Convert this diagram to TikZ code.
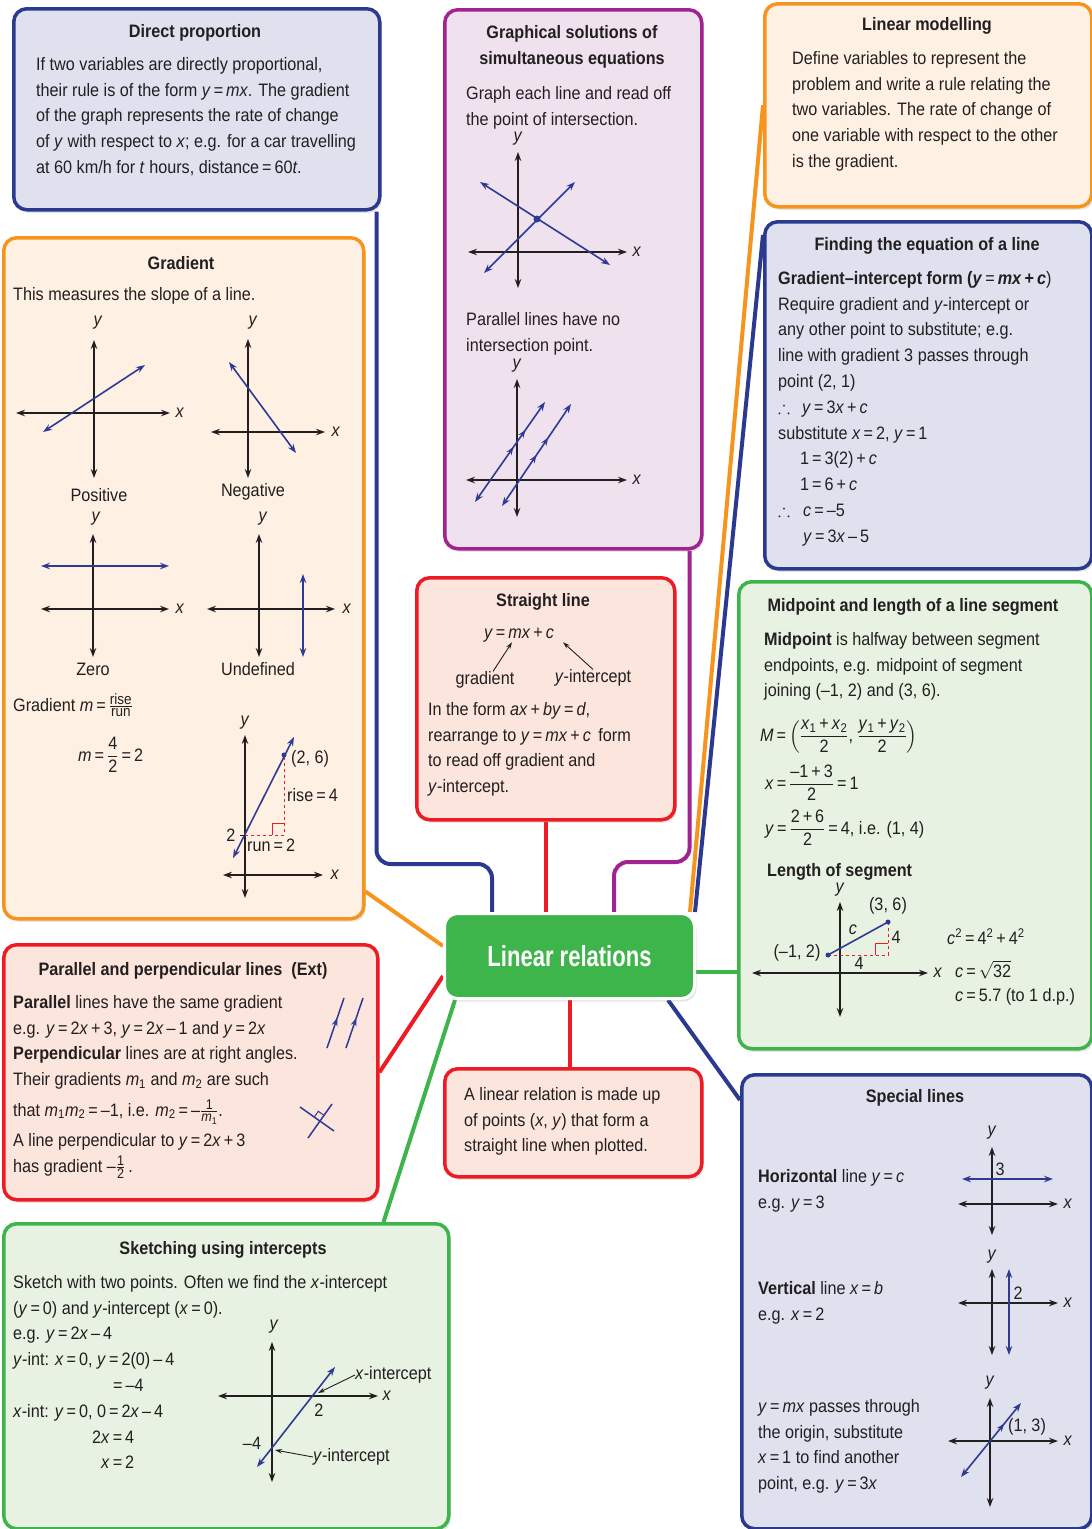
\documentclass[tikz,border=0pt]{standalone}
\usepackage{amsmath,amssymb}
\usepackage{fontspec}
\setmainfont{Liberation Sans}[FakeStretch=0.9]
\newfontfamily\lrfont{Liberation Sans}[FakeStretch=0.76]
\usetikzlibrary{arrows.meta,shadows,backgrounds,decorations.markings}
\definecolor{cblue}{HTML}{2B3A8E}
\definecolor{cpurple}{HTML}{A0238F}
\definecolor{corange}{HTML}{F7941D}
\definecolor{cred}{HTML}{ED1C24}
\definecolor{cgreen}{HTML}{3DB54A}
\definecolor{fblue}{HTML}{DFE1EF}
\definecolor{fpurple}{HTML}{EFE1EE}
\definecolor{forange}{HTML}{FEF1E3}
\definecolor{fred}{HTML}{FCE5DC}
\definecolor{fgreen}{HTML}{E7F2E3}
\definecolor{lblue}{HTML}{2E3A94}
\definecolor{ctext}{HTML}{231F20}
\newcommand\bodyfont{\fontsize{18}{25.8}\selectfont}
\newcommand\I[1]{\textit{#1}}
\newcommand\myeq{\,=\,}
\newcommand\mypl{\,+\,}
\newcommand\mymi{\,–\,}
\newcommand\smfr[3]{$\tfrac{\text{\fontsize{#1}{#1}\selectfont #2}}{\text{\fontsize{#1}{#1}\selectfont #3}}$}
\newcommand\cbox[7]{\node[cardbox, draw=#6, fill=#7, minimum width={(#4-#2)*1pt}, minimum height={(#5-#3)*1pt}] (#1) at (#2,#3) {};}
\begin{document}
\begin{tikzpicture}[x=1pt,y=-1pt,
  cardbox/.style={line width=3.5pt, rounded corners=13pt, inner sep=0pt, anchor=north west, drop shadow={opacity=0.2, shadow xshift=2pt, shadow yshift=-3pt}},
  conn/.style={line width=4pt, rounded corners=14pt},
  tx/.style={inner sep=0pt, anchor=north west, align=left, font=\bodyfont, text=ctext},
  hd/.style={inner sep=0pt, align=center, font=\bodyfont\bfseries, text=ctext},
  lab/.style={inner sep=0pt, font=\bodyfont, text=ctext},
  ax/.style={draw=ctext, line width=1.2pt, <->},
  bl/.style={draw=lblue, line width=1.6pt, <->},
  >={Stealth[length=9pt,width=6.5pt]},
  midarr/.style={postaction={decorate, decoration={markings, mark=at position #1 with {\arrow{Stealth[length=8pt,width=6pt]}}}}},
  pointer/.style={draw=ctext, line width=0.9pt, -{Stealth[length=7pt,width=4.5pt]}},
]
\useasboundingbox (0,0) rectangle (1092,1529);

% ---------- boxes ----------
\cbox{dp}{12}{7}{378}{208}{cblue}{fblue}
\cbox{gs}{443}{8}{700}{547}{cpurple}{fpurple}
\cbox{lm}{763}{2}{1090}{205}{corange}{forange}
\cbox{fe}{763}{220}{1090}{567}{cblue}{fblue}
\cbox{gr}{2}{236}{362}{917}{corange}{forange}
\cbox{sl}{415}{576}{673}{818}{cred}{fred}
\cbox{mp}{737}{580}{1090}{1047}{cgreen}{fgreen}
\cbox{pp}{2}{943}{376}{1198}{cred}{fred}
\cbox{lb}{443}{1067}{700}{1175}{cred}{fred}
\cbox{sk}{2}{1222}{447}{1527}{cgreen}{fgreen}
\cbox{sp}{740}{1073}{1090}{1527}{cblue}{fblue}
\node[cardbox, draw=white, line width=3pt, fill=cgreen, minimum width=250pt, minimum height=85pt,
      font=\lrfont\bfseries\fontsize{29}{30}\selectfont, text=white] (lr) at (443,912) {Linear relations};

% ---------- connectors ----------
\coordinate (cA) at (492,864);
\coordinate (cB) at (614,862);
\begin{pgfonlayer}{background}
\fill[white] (0,0) rectangle (1092,1529);
\draw[conn, cblue] ([xshift=-5pt]dp.south east) |- (cA) -- (cA |- lr.north);
\draw[conn, cpurple] ([xshift=-14pt]gs.south east) |- (cB) -- (cB |- lr.north);
\draw[conn, cred] (sl.south) -- (sl.south |- lr.north);
\draw[conn, corange] (lm.west) -- ([xshift=-6pt]lr.north east);
\draw[conn, cblue] ([yshift=-15pt]fe.north west) -- ([xshift=-1pt]lr.north east);
\draw[conn, cgreen] ([yshift=-16pt]lr.east) -- ([yshift=-16pt]lr.east -| mp.west);
\draw[conn, corange] ([yshift=29pt]gr.south east) -- ([yshift=10pt]lr.west);
\draw[conn, cred] (pp.east) -- ([yshift=-20pt]lr.west);
\draw[conn, cgreen] ([xshift=-67pt]sk.north east) -- ([xshift=12pt]lr.south west);
\draw[conn, cred] (lr.south) -- (lr.south |- lb.north);
\draw[conn, cblue] ([xshift=-28pt]lr.south east) -- ([yshift=-27pt]sp.north west);
\end{pgfonlayer}

% ---------- Direct proportion ----------
\node[hd] (dpT) at (195,33) {Direct proportion};
\node[tx] (dpB) at (36,57) {If two variables are directly proportional,\\their rule is of the form \I{y}\myeq\I{mx}. The gradient\\of the graph represents the rate of change\\of \I{y} with respect to \I{x}; e.g. for a car travelling\\at 60 km/h for \I{t} hours, distance\myeq60\I{t}.};

% ---------- Graphical solutions ----------
\node[hd] (gsT) at (572,47) {Graphical solutions of\\simultaneous equations};
\node[tx] (gsB1) at (466,86) {Graph each line and read off\\the point of intersection.};
\node[tx] (gsB2) at (466,312) {Parallel lines have no\\intersection point.};
\draw[ax] (518,152) -- (518,288);
\draw[ax] (468,252) -- (627,252);
\node[lab] (gs1y) at (518,139) {\I{y}};
\node[lab] (gs1x) at (637,252) {\I{x}};
\draw[bl] (480,182) -- (610,265);
\draw[bl] (484,273) -- (575,182);
\fill[lblue] (537,219) circle (3.5pt);
\draw[ax] (517,379) -- (517,517);
\draw[ax] (466,480) -- (627,480);
\node[lab] (gs2y) at (517,366) {\I{y}};
\node[lab] (gs2x) at (637,480) {\I{x}};
\draw[bl, midarr=0.55, midarr=0.72] (475,502) -- (545,402);
\draw[bl, midarr=0.5, midarr=0.67] (502,506) -- (571,404);

% ---------- Linear modelling ----------
\node[hd] (lmT) at (927,26) {Linear modelling};
\node[tx] (lmB) at (792,51) {Define variables to represent the\\problem and write a rule relating the\\two variables. The rate of change of\\one variable with respect to the other\\is the gradient.};

% ---------- Finding the equation ----------
\node[hd] (feT) at (927,246) {Finding the equation of a line};
\node[tx] (feB) at (778,271) {\textbf{Gradient–intercept form (\I{y}}\myeq\textbf{\I{mx}\mypl\I{c}})\\Require gradient and \I{y}-intercept or\\any other point to substitute; e.g.\\line with gradient 3 passes through\\point (2, 1)\\\makebox[24pt][l]{$\therefore$}\I{y}\myeq3\I{x}\mypl\I{c}\\substitute \I{x}\myeq2, \I{y}\myeq1\\\hspace*{22pt}1\myeq3(2)\mypl\I{c}\\\hspace*{22pt}1\myeq6\mypl\I{c}\\\makebox[25pt][l]{$\therefore$}\I{c}\myeq–5\\\hspace*{25pt}\I{y}\myeq3\I{x}\mymi5};

% ---------- Gradient ----------
\node[hd] (grT) at (181,263) {Gradient};
\node[tx] (grB) at (13,287) {This measures the slope of a line.};
\draw[ax] (94,340) -- (94,478);
\draw[ax] (16,413) -- (170,413);
\node[lab] (p1y) at (98,323) {\I{y}};
\node[lab] (p1x) at (180,413) {\I{x}};
\draw[bl] (43,432) -- (145,365);
\node[lab] (p1l) at (99,495) {Positive};
\draw[ax] (248,339) -- (248,478);
\draw[ax] (211,432) -- (325,432);
\node[lab] (p2y) at (253,323) {\I{y}};
\node[lab] (p2x) at (336,432) {\I{x}};
\draw[bl] (229,362) -- (296,453);
\node[lab] (p2l) at (253,492) {Negative};
\draw[ax] (93,534) -- (93,657);
\draw[ax] (41,609) -- (169,609);
\node[lab] (p3y) at (96,519) {\I{y}};
\node[lab] (p3x) at (180,609) {\I{x}};
\draw[bl] (41,566) -- (169,566);
\node[lab] (p3l) at (93,669) {Zero};
\draw[ax] (259,534) -- (259,657);
\draw[ax] (207,609) -- (335,609);
\node[lab] (p4y) at (263,519) {\I{y}};
\node[lab] (p4x) at (347,609) {\I{x}};
\draw[bl] (303,574) -- (303,657);
\node[lab] (p4l) at (258,669) {Undefined};
\node[tx, anchor=base west] (grF1) at (13,711) {Gradient \I{m}\myeq\smfr{15}{rise}{run}};
\node[tx, anchor=base west] (grF2) at (78,761) {\I{m}\myeq$\dfrac{\text{4}}{\text{2}}$\myeq2};
\draw[ax] (245,735) -- (245,898);
\draw[ax] (223,875) -- (323,875);
\node[lab] (rry) at (245,723) {\I{y}};
\node[lab] (rrx) at (335,875) {\I{x}};
\draw[cred, dashed, line width=1pt] (245,835) -- (284,835) -- (284,755);
\draw[cred, line width=1pt] (272,835) -- (272,823) -- (284,823);
\draw[bl] (233,858) -- (294,737);
\fill[lblue] (284,755) circle (2.5pt);
\draw[ctext, line width=1pt] (240,835) -- (245,835);
\node[lab] (rr2) at (231,835) {2};
\node[lab, anchor=west] (rr26) at (291,759) {(2, 6)};
\node[lab, anchor=west] (rrr) at (287,795) {rise\myeq4};
\node[lab, anchor=west] (rrn) at (247,845) {run\myeq2};

% ---------- Straight line ----------
\node[hd] (slT) at (543,602) {Straight line};
\node[lab] (slE) at (519,635) {\I{y}\myeq\I{mx}\mypl\I{c}};
\node[lab] (slG) at (485,680) {gradient};
\node[lab] (slY) at (593,678) {\I{y}-intercept};
\draw[pointer] ([xshift=8pt]slG.north) -- ([xshift=-7pt]slE.south);
\draw[pointer] (slY.north) -- ([xshift=44pt]slE.south);
\node[tx] (slB) at (428,702) {In the form \I{ax}\mypl\I{by}\myeq\I{d},\\rearrange to \I{y}\myeq\I{mx}\mypl\I{c}\, form\\to read off gradient and\\\I{y}-intercept.};

% ---------- Midpoint ----------
\node[hd] (mpT) at (913,607) {Midpoint and length of a line segment};
\node[tx] (mpB) at (764,632) {\textbf{Midpoint} is halfway between segment\\endpoints, e.g. midpoint of segment\\joining (–1, 2) and (3, 6).};
\node[tx, anchor=base west] (mpM) at (760,741) {\I{M}\myeq$\left(\dfrac{\text{\I{x}\textsubscript{1}\mypl\I{x}\textsubscript{2}}}{\text{2}}\text{, }\dfrac{\text{\I{y}\textsubscript{1}\mypl\I{y}\textsubscript{2}}}{\text{2}}\right)$};
\node[tx, anchor=base west] (mpX) at (765,789) {\I{x}\myeq$\dfrac{\text{–1\mypl3}}{\text{2}}$\myeq1};
\node[tx, anchor=base west] (mpY) at (765,834) {\I{y}\myeq$\dfrac{\text{2\mypl6}}{\text{2}}$\myeq4, i.e. (1, 4)};
\node[tx, anchor=base west, font=\bodyfont\bfseries] (mpL) at (767,876) {Length of segment};
\draw[ax] (840,902) -- (840,1017);
\draw[ax] (752,973) -- (928,973);
\node[lab] (mpy) at (840,890) {\I{y}};
\node[lab] (mpx) at (938,973) {\I{x}};
\draw[cred, dashed, line width=1pt] (828,955) -- (888,955) -- (888,922);
\draw[cred, line width=1pt] (875,955) -- (875,943) -- (888,943);
\draw[lblue, line width=1.6pt] (828,955) -- (888,922);
\fill[lblue] (828,955) circle (2.5pt);
\fill[lblue] (888,922) circle (2.5pt);
\node[lab] (mp36) at (888,906) {(3, 6)};
\node[lab] (mpc) at (853,930) {\I{c}};
\node[lab] (mp4a) at (896,937) {4};
\node[lab] (mp4b) at (859,963) {4};
\node[lab] (mp12) at (797,953) {(–1, 2)};
\node[tx, anchor=base west] (mpR1) at (947,944) {\I{c}\textsuperscript{2}\myeq4\textsuperscript{2}\mypl4\textsuperscript{2}};
\node[tx, anchor=base west] (mpR2) at (955,977) {\I{c}\myeq$\sqrt{\text{32}}$};
\node[tx, anchor=base west] (mpR3) at (955,1001) {\I{c}\myeq5.7 (to 1 d.p.)};

% ---------- Parallel and perpendicular ----------
\node[hd] (ppT) at (183,971) {Parallel and perpendicular lines\ \ (Ext)};
\node[tx] (ppB) at (13,995) {\textbf{Parallel} lines have the same gradient\\e.g. \I{y}\myeq2\I{x}\mypl3, \I{y}\myeq2\I{x}\mymi1 and \I{y}\myeq2\I{x}\\\textbf{Perpendicular} lines are at right angles.\\Their gradients \I{m}\textsubscript{1} and \I{m}\textsubscript{2} are such};
\node[tx, anchor=base west] (ppC) at (13,1116) {that \I{m}\textsubscript{1}\I{m}\textsubscript{2}\myeq–1, i.e. \I{m}\textsubscript{2}\myeq–\smfr{14}{1}{\I{m}\textsubscript{1}}.};
\node[tx, anchor=base west] (ppD) at (13,1146) {A line perpendicular to \I{y}\myeq2\I{x}\mypl3};
\node[tx, anchor=base west] (ppE) at (13,1172) {has gradient –\smfr{14}{1}{2}\,.};
\draw[lblue, line width=1.5pt, midarr=0.6] (327,1048) -- (344,998);
\draw[lblue, line width=1.5pt, midarr=0.6] (346,1048) -- (363,998);
\draw[lblue, line width=1.5pt] (300,1107) -- (334,1131);
\draw[lblue, line width=1.5pt] (308,1138) -- (332,1104);
\draw[lblue, line width=1pt] (324,1115.3) -- (318.3,1111.3) -- (314.3,1117);

% ---------- Linear relation definition ----------
\node[tx] (lbB) at (464,1087) {A linear relation is made up\\of points (\I{x}, \I{y}) that form a\\straight line when plotted.};

% ---------- Sketching ----------
\node[hd] (skT) at (223,1250) {Sketching using intercepts};
\node[tx] (skB) at (13,1275) {Sketch with two points. Often we find the \I{x}-intercept\\(\I{y}\myeq0) and \I{y}-intercept (\I{x}\myeq0).\\e.g. \I{y}\myeq2\I{x}\mymi4\\\I{y}-int: \I{x}\myeq0, \I{y}\myeq2(0)\mymi4\\\hspace*{100pt}=\,–4\\\I{x}-int: \I{y}\myeq0, 0\myeq2\I{x}\mymi4\\\hspace*{79pt}2\I{x}\myeq4\\\hspace*{88pt}\I{x}\myeq2};
\draw[ax] (272,1342) -- (272,1482);
\draw[ax] (218,1396) -- (378,1396);
\node[lab] (sky) at (274,1327) {\I{y}};
\node[lab] (skx) at (387,1396) {\I{x}};
\draw[bl] (257,1467) -- (335,1367);
\node[lab] (sk2) at (319,1410) {2};
\node[lab] (sk4) at (252,1443) {–4};
\node[lab, anchor=west] (skXi) at (355,1375) {\I{x}-intercept};
\node[lab, anchor=west] (skYi) at (313,1457) {\I{y}-intercept};
\coordinate (skXp) at (318,1393);
\coordinate (skYp) at (275,1450);
\draw[pointer] (skXi.west) -- (skXp);
\draw[pointer] (skYi.west) -- (skYp);

% ---------- Special lines ----------
\node[hd] (spT) at (915,1098) {Special lines};
\node[tx] (spB1) at (758,1169) {\textbf{Horizontal} line \I{y}\myeq\I{c}\\e.g. \I{y}\myeq3};
\node[tx] (spB2) at (758,1281) {\textbf{Vertical} line \I{x}\myeq\I{b}\\e.g. \I{x}\myeq2};
\node[tx] (spB3) at (758,1399) {\I{y}\myeq\I{mx} passes through\\the origin, substitute\\\I{x}\myeq1 to find another\\point, e.g. \I{y}\myeq3\I{x}};
\draw[ax] (992,1147) -- (992,1235);
\draw[ax] (958,1204) -- (1058,1204);
\node[lab] (sa_y) at (992,1133) {\I{y}};
\node[lab] (sa_x) at (1068,1204) {\I{x}};
\draw[bl] (962,1179) -- (1053,1179);
\node[lab] (sa3) at (1000,1169) {3};
\draw[ax] (992,1269) -- (992,1355);
\draw[ax] (958,1303) -- (1058,1303);
\node[lab] (sb_y) at (992,1257) {\I{y}};
\node[lab] (sb_x) at (1068,1303) {\I{x}};
\draw[bl] (1009,1269) -- (1009,1355);
\node[lab] (sb2) at (1018,1293) {2};
\draw[ax] (990,1398) -- (990,1507);
\draw[ax] (948,1441) -- (1058,1441);
\node[lab] (sc_y) at (990,1383) {\I{y}};
\node[lab] (sc_x) at (1068,1441) {\I{x}};
\draw[bl, midarr=0.72] (961,1477) -- (1021,1403);
\node[lab] (sc13) at (1027,1427) {(1, 3)};
\end{tikzpicture}
\end{document}
